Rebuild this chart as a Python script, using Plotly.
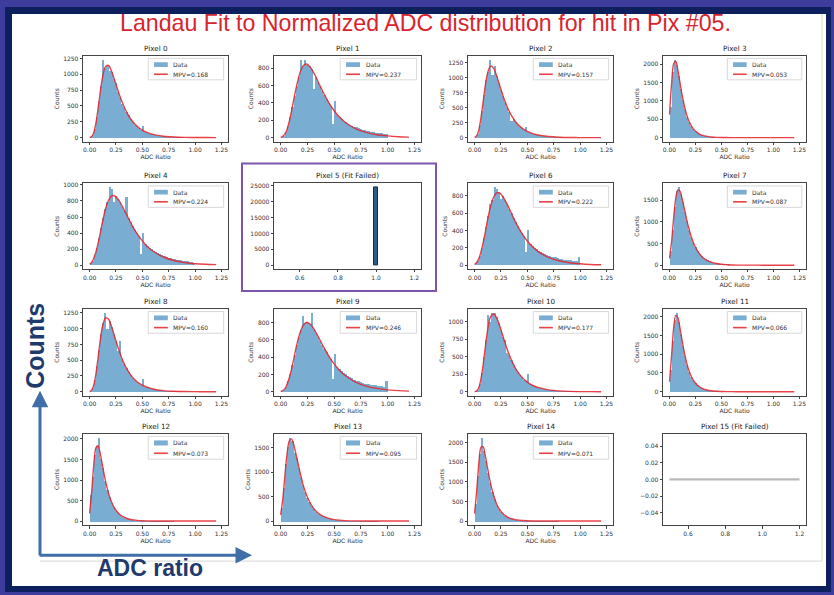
import plotly.graph_objects as go

W, H = 834, 595

# ------------------------------------------------------------------ data
bin_centers = [round(0.01 + 0.02 * k, 2) for k in range(50)]   # ADC-ratio bins (width 0.02)
fit_x = [0.00, 0.02, 0.04, 0.06, 0.08, 0.10, 0.12, 0.15, 0.18, 0.21, 0.24, 0.28, 0.32,
         0.36, 0.40, 0.45, 0.50, 0.55, 0.60, 0.70, 0.80, 0.90, 1.00, 1.10, 1.20]

counts_pix0 = [7, 43, 140, 335, 580, 820, 1230, 1110, 1140, 1060, 1040, 930, 860, 720, 650, 540, 490, 400, 360, 290,
               255, 210, 185, 150, 130, 190, 93, 79, 67, 56, 47, 40, 34, 29, 25, 21, 18, 16, 14, 12,
               10, 9, 8, 7, 6, 5, 4, 4, 3, 3]
counts_pix1 = [8, 26, 68, 136, 238, 357, 485, 603, 708, 900, 829, 900, 845, 825, 790, 560, 699, 646, 595, 542,
               495, 447, 405, 365, 160, 420, 266, 238, 214, 200, 180, 165, 150, 140, 130, 120, 110, 100, 95, 90,
               80, 75, 70, 65, 60, 55, 55, 50, 45, 40]
counts_pix2 = [12, 67, 216, 446, 720, 960, 1100, 1300, 1050, 1200, 1026, 914, 804, 696, 600, 510, 434, 280, 312, 263,
               222, 187, 158, 132, 185, 95, 80, 67, 57, 48, 40, 34, 29, 24, 20, 17, 14, 12, 10, 9,
               7, 6, 5, 4, 4, 3, 3, 2, 2, 2]
counts_pix3 = [850, 1800, 2120, 1985, 1680, 1333, 1030, 777, 578, 430, 321, 237, 175, 128, 96, 71, 52, 38, 28, 21,
               15, 11, 8, 6, 5, 4, 3, 3, 2, 2, 2, 1, 1, 1, 1, 1, 1, 1, 1, 1,
               0, 0, 0, 0, 0, 0, 0, 0, 0, 0]
counts_pix4 = [21, 52, 117, 213, 329, 457, 588, 696, 779, 970, 940, 780, 854, 823, 783, 733, 682, 843, 579, 528,
               479, 435, 392, 355, 130, 400, 258, 231, 215, 195, 175, 160, 150, 135, 125, 115, 100, 90, 85, 75,
               70, 65, 60, 55, 50, 45, 42, 38, 30, 20]
counts_pix6 = [18, 49, 105, 197, 312, 441, 563, 700, 753, 900, 870, 838, 760, 790, 748, 699, 647, 596, 544, 496,
               447, 407, 365, 328, 150, 400, 238, 213, 195, 180, 165, 150, 135, 125, 115, 105, 95, 90, 85, 80,
               70, 65, 60, 55, 50, 50, 45, 40, 40, 85]
counts_pix7 = [330, 800, 1340, 1700, 1800, 1645, 1449, 1220, 1001, 812, 651, 518, 411, 324, 257, 203, 159, 126, 100, 79,
               61, 49, 38, 30, 24, 19, 15, 12, 9, 7, 6, 5, 4, 3, 3, 2, 2, 2, 1, 1,
               1, 1, 1, 1, 0, 0, 0, 0, 0, 0]
counts_pix8 = [9, 53, 183, 407, 667, 920, 1092, 1250, 1000, 1115, 1023, 915, 807, 640, 800, 513, 439, 371, 314, 264,
               224, 189, 159, 133, 113, 200, 80, 68, 57, 48, 41, 35, 29, 25, 21, 18, 15, 13, 11, 9,
               8, 7, 6, 5, 4, 4, 3, 3, 2, 2]
counts_pix9 = [6, 22, 56, 120, 204, 306, 424, 541, 638, 714, 880, 794, 800, 788, 910, 724, 684, 638, 588, 542,
               498, 454, 412, 374, 150, 440, 290, 265, 240, 220, 200, 185, 170, 155, 140, 130, 120, 110, 100, 95,
               90, 85, 82, 78, 74, 70, 66, 62, 58, 120]
counts_pix10 = [5, 28, 107, 266, 493, 735, 1090, 1000, 1125, 1119, 1064, 983, 886, 788, 740, 560, 520, 447, 386, 328,
                283, 241, 205, 175, 149, 250, 108, 92, 79, 67, 57, 48, 41, 35, 30, 26, 22, 19, 16, 14,
                12, 10, 9, 8, 7, 6, 5, 4, 4, 3]
counts_pix11 = [574, 1353, 1917, 2100, 1855, 1548, 1224, 943, 718, 537, 404, 303, 226, 168, 125, 94, 70, 51, 39, 29,
                21, 16, 12, 9, 7, 5, 4, 3, 2, 2, 1, 1, 1, 1, 1, 1, 1, 0, 0, 0,
                0, 0, 0, 0, 0, 0, 0, 0, 0, 0]
counts_pix12 = [650, 1073, 1628, 1846, 2030, 1528, 1300, 984, 768, 592, 450, 342, 261, 198, 150, 113, 85, 65, 50, 37,
                28, 21, 16, 12, 9, 7, 5, 4, 3, 2, 2, 2, 1, 1, 1, 1, 1, 1, 1, 1,
                0, 0, 0, 0, 0, 0, 0, 0, 0, 0]
counts_pix13 = [269, 689, 1173, 1520, 1700, 1643, 1400, 1297, 1094, 907, 739, 603, 487, 391, 316, 254, 202, 161, 129, 104,
                84, 67, 54, 43, 34, 27, 22, 17, 14, 11, 9, 7, 6, 5, 4, 3, 3, 2, 2, 2,
                1, 1, 1, 1, 1, 1, 0, 0, 0, 0]
counts_pix14 = [450, 1158, 1727, 2130, 1814, 1554, 1245, 975, 751, 571, 432, 328, 247, 185, 139, 106, 79, 60, 44, 33,
                25, 19, 14, 10, 8, 6, 4, 3, 2, 2, 1, 1, 1, 1, 1, 1, 1, 1, 1, 1,
                0, 0, 0, 0, 0, 0, 0, 0, 0, 0]

fit_pix0 = [2, 17, 80, 227, 450, 707, 929, 1121, 1139, 1041, 895, 690, 514, 374, 271, 181, 118, 79, 52, 22, 10, 4, 2, 1, 0.5]
fit_pix1 = [4, 16, 44, 98, 185, 298, 425, 603, 748, 829, 850, 808, 723, 620, 518, 405, 311, 238, 181, 104, 60, 34, 20, 11, 6]
fit_pix2 = [4, 31, 126, 324, 582, 852, 1056, 1194, 1159, 1026, 859, 646, 470, 340, 240, 158, 103, 67, 43, 18, 7, 3, 1, 1, 0]
fit_pix3 = [630, 1466, 2010, 2079, 1844, 1508, 1176, 777, 500, 321, 204, 111, 61, 34, 19, 8, 4, 2, 1, 0.5, 0.2, 0.1, 0, 0, 0]
fit_pix4 = [11, 35, 87, 165, 269, 392, 522, 696, 809, 864, 861, 805, 709, 605, 503, 392, 303, 231, 177, 102, 58, 34, 19, 11, 7]
fit_pix6 = [9, 31, 76, 151, 255, 370, 504, 672, 785, 836, 832, 769, 676, 570, 472, 365, 280, 213, 160, 91, 52, 29, 17, 9, 5]
fit_pix7 = [158, 541, 1094, 1540, 1738, 1715, 1550, 1220, 905, 651, 462, 289, 180, 112, 70, 38, 21, 12, 6, 2, 1, 0.3, 0, 0, 0]
fit_pix8 = [3, 25, 106, 283, 531, 802, 1015, 1172, 1151, 1023, 861, 649, 474, 342, 244, 159, 104, 68, 44, 18, 8, 3, 1, 0.5, 0]
fit_pix9 = [4, 14, 36, 85, 158, 252, 366, 541, 676, 766, 799, 776, 706, 614, 520, 412, 322, 249, 190, 112, 65, 38, 22, 13, 7]
fit_pix10 = [1, 11, 60, 181, 373, 616, 842, 1068, 1110, 1050, 930, 739, 559, 416, 304, 205, 138, 92, 62, 27, 12, 5, 2, 1, 0.5]
fit_pix11 = [267, 964, 1697, 2034, 1978, 1706, 1380, 943, 621, 404, 260, 146, 82, 45, 25, 12, 6, 3, 1.5, 0.4, 0.1, 0, 0, 0, 0]
fit_pix12 = [185, 722, 1378, 1782, 1832, 1656, 1384, 984, 673, 450, 300, 174, 100, 57, 31, 16, 8, 4, 2, 0.5, 0.2, 0, 0, 0, 0]
fit_pix13 = [126, 454, 941, 1378, 1630, 1675, 1574, 1297, 1000, 739, 543, 353, 227, 146, 94, 54, 30, 18, 10, 3, 1, 0.4, 0.1, 0, 0]
fit_pix14 = [193, 772, 1467, 1882, 1901, 1690, 1397, 975, 660, 432, 284, 160, 91, 52, 29, 14, 7, 3, 2, 0.4, 0.1, 0, 0, 0, 0]

mpv_labels = ["0.168", "0.237", "0.157", "0.053", "0.224", None, "0.222", "0.087",
              "0.160", "0.246", "0.177", "0.066", "0.073", "0.095", "0.071", None]

pix5_x = [1.0]
pix5_counts = [24500]
pix15_x = [0.5, 1.2]
pix15_y = [0.0, 0.0]

y_tick_step = [250, 200, 250, 500, 200, 5000, 200, 500, 250, 200, 250, 500, 500, 500, 500, 0.02]

hist_counts = [counts_pix0, counts_pix1, counts_pix2, counts_pix3, counts_pix4, None, counts_pix6, counts_pix7,
               counts_pix8, counts_pix9, counts_pix10, counts_pix11, counts_pix12, counts_pix13, counts_pix14, None]
fit_counts = [fit_pix0, fit_pix1, fit_pix2, fit_pix3, fit_pix4, None, fit_pix6, fit_pix7,
              fit_pix8, fit_pix9, fit_pix10, fit_pix11, fit_pix12, fit_pix13, fit_pix14, None]

# ------------------------------------------------------------------ layout geometry (pixels)
col_px = [(83, 228), (274, 421), (468, 613), (663, 806)]
row_px = [(54, 140), (182, 268), (308, 395), (433, 525)]

def px(x):
    return x / W

def py(y):
    return 1 - y / H

BAR_COLOR = "rgba(31,119,180,0.6)"
FIT_COLOR = "rgba(230,32,40,0.85)"
TICK_FONT = dict(family="DejaVu Sans", size=6, color="#333")
LABEL_FONT = dict(family="DejaVu Sans", size=6, color="#333")

fig = go.Figure()
layout = {}
annotations = []
shapes = []

for i in range(16):
    r, c = divmod(i, 4)
    n = i + 1
    xa = "x" if n == 1 else f"x{n}"
    ya = "y" if n == 1 else f"y{n}"
    xkey = "xaxis" if n == 1 else f"xaxis{n}"
    ykey = "yaxis" if n == 1 else f"yaxis{n}"
    x0, x1 = col_px[c]
    y0, y1 = row_px[r]

    base = dict(showline=True, mirror=True, linecolor="#444", linewidth=0.7,
                ticks="outside", ticklen=2.5, tickwidth=0.6, tickcolor="#444",
                showgrid=False, zeroline=False, tickfont=TICK_FONT)

    failed = hist_counts[i] is None
    if not failed:
        counts = hist_counts[i]
        fit = fit_counts[i]
        fig.add_trace(go.Bar(x=bin_centers, y=counts, width=0.02,
                             marker=dict(color=BAR_COLOR, line=dict(width=0)),
                             xaxis=xa, yaxis=ya, showlegend=False, hoverinfo="skip"))
        fig.add_trace(go.Scatter(x=fit_x, y=fit, mode="lines",
                                 line=dict(color=FIT_COLOR, width=1.4, shape="spline", smoothing=0.8),
                                 xaxis=xa, yaxis=ya, showlegend=False, hoverinfo="skip"))
        m = max(max(counts), max(fit))
        layout[xkey] = dict(base, domain=[px(x0), px(x1)], anchor=ya, range=[-0.0625, 1.3125],
                            tick0=0, dtick=0.25, tickformat=".2f",
                            title=dict(text="ADC Ratio", font=LABEL_FONT, standoff=2))
        layout[ykey] = dict(base, domain=[py(y1), py(y0)], anchor=xa, range=[-0.05 * m, 1.05 * m],
                            tick0=0, dtick=y_tick_step[i], tickformat="d",
                            title=dict(text="Counts", font=LABEL_FONT, standoff=3))
        title = f"Pixel {i}"
        # legend box
        xd, yd = f"{xa} domain", f"{ya} domain"
        shapes.append(dict(type="rect", xref=xd, yref=yd, x0=0.45, x1=0.97, y0=0.72, y1=0.97,
                           fillcolor="rgba(255,255,255,0.85)", line=dict(color="#cfcfcf", width=0.8)))
        shapes.append(dict(type="rect", xref=xd, yref=yd, x0=0.49, x1=0.585, y0=0.87, y1=0.925,
                           fillcolor=BAR_COLOR, line=dict(width=0)))
        shapes.append(dict(type="line", xref=xd, yref=yd, x0=0.49, x1=0.585, y0=0.785, y1=0.785,
                           line=dict(color=FIT_COLOR, width=1.6)))
        annotations.append(dict(xref=xd, yref=yd, x=0.61, y=0.897, text="Data", showarrow=False,
                                xanchor="left", yanchor="middle", font=dict(family="DejaVu Sans", size=6, color="#333")))
        annotations.append(dict(xref=xd, yref=yd, x=0.61, y=0.785, text=f"MPV={mpv_labels[i]}", showarrow=False,
                                xanchor="left", yanchor="middle", font=dict(family="DejaVu Sans", size=6, color="#333")))
    else:
        if i == 5:
            fig.add_trace(go.Bar(x=pix5_x, y=pix5_counts, width=0.019,
                                 marker=dict(color="#2d5c88", line=dict(color="#122a44", width=1)),
                                 xaxis=xa, yaxis=ya, showlegend=False, hoverinfo="skip"))
            m = max(pix5_counts)
            yr = [-0.05 * m, 1.05 * m]
            yfmt = "d"
        else:
            fig.add_trace(go.Scatter(x=pix15_x, y=pix15_y, mode="lines",
                                     line=dict(color="#b8b8b8", width=2.2),
                                     xaxis=xa, yaxis=ya, showlegend=False, hoverinfo="skip"))
            yr = [-0.055, 0.055]
            yfmt = ".2f"
        layout[xkey] = dict(base, domain=[px(x0), px(x1)], anchor=ya, range=[0.465, 1.235],
                            tick0=0, dtick=0.2, tickformat=".1f")
        layout[ykey] = dict(base, domain=[py(y1), py(y0)], anchor=xa, range=yr,
                            tick0=0, dtick=y_tick_step[i], tickformat=yfmt)
        title = f"Pixel {i} (Fit Failed)"

    annotations.append(dict(xref=f"{xa} domain", yref=f"{ya} domain", x=0.5, y=1.0, yshift=1,
                            text=title, showarrow=False, xanchor="center", yanchor="bottom",
                            font=dict(family="DejaVu Sans", size=7.2, color="#222")))

# ------------------------------------------------------------------ slide decoration
bg_shapes = [
    dict(type="rect", xref="paper", yref="paper", x0=px(5), x1=px(831), y0=py(592), y1=py(5),
         fillcolor="#0d1f5c", line=dict(width=0), layer="below"),
    dict(type="rect", xref="paper", yref="paper", x0=px(12), x1=px(826), y0=py(586), y1=py(12),
         fillcolor="#ffffff", line=dict(width=0), layer="below"),
    dict(type="line", xref="paper", yref="paper", x0=px(822), x1=px(822), y0=py(561), y1=py(12),
         line=dict(color="#d6d6d6", width=1), layer="below"),
    dict(type="line", xref="paper", yref="paper", x0=px(40), x1=px(822), y0=py(561), y1=py(561),
         line=dict(color="#d6d6d6", width=1), layer="below"),
    dict(type="rect", xref="paper", yref="paper", x0=px(242), x1=px(436), y0=py(290), y1=py(162),
         line=dict(color="#7d55ad", width=2), fillcolor="rgba(0,0,0,0)", layer="above"),
]

annotations += [
    dict(xref="paper", yref="paper", x=px(425), y=py(21), text="Landau Fit to Normalized ADC distribution for hit in Pix #05.",
         showarrow=False, xanchor="center", yanchor="middle",
         font=dict(family="Liberation Sans", size=23.2, color="#d8242c")),
    dict(xref="paper", yref="paper", x=px(35), y=py(345), text="<b>Counts</b>", textangle=-90,
         showarrow=False, xanchor="center", yanchor="middle",
         font=dict(family="Liberation Sans", size=25, color="#1f3a6c")),
    dict(xref="paper", yref="paper", x=px(150), y=py(568), text="<b>ADC ratio</b>",
         showarrow=False, xanchor="center", yanchor="middle",
         font=dict(family="Liberation Sans", size=23, color="#1f3a6c")),
    dict(xref="paper", yref="paper", axref="pixel", ayref="pixel", x=px(40), y=py(390),
         ax=0, ay=166, text="", showarrow=True, arrowhead=2, arrowsize=1.1,
         arrowwidth=3, arrowcolor="#3f6fa6"),
    dict(xref="paper", yref="paper", axref="pixel", ayref="pixel", x=px(252), y=py(555),
         ax=-214, ay=0, text="", showarrow=True, arrowhead=2, arrowsize=1.1,
         arrowwidth=3, arrowcolor="#3f6fa6"),
]

fig.update_layout(
    width=W, height=H, margin=dict(l=0, r=0, t=0, b=0),
    paper_bgcolor="#3e3c9c", plot_bgcolor="white",
    bargap=0, showlegend=False,
    shapes=bg_shapes + shapes, annotations=annotations,
    **layout,
)

fig.write_html("out.html")
